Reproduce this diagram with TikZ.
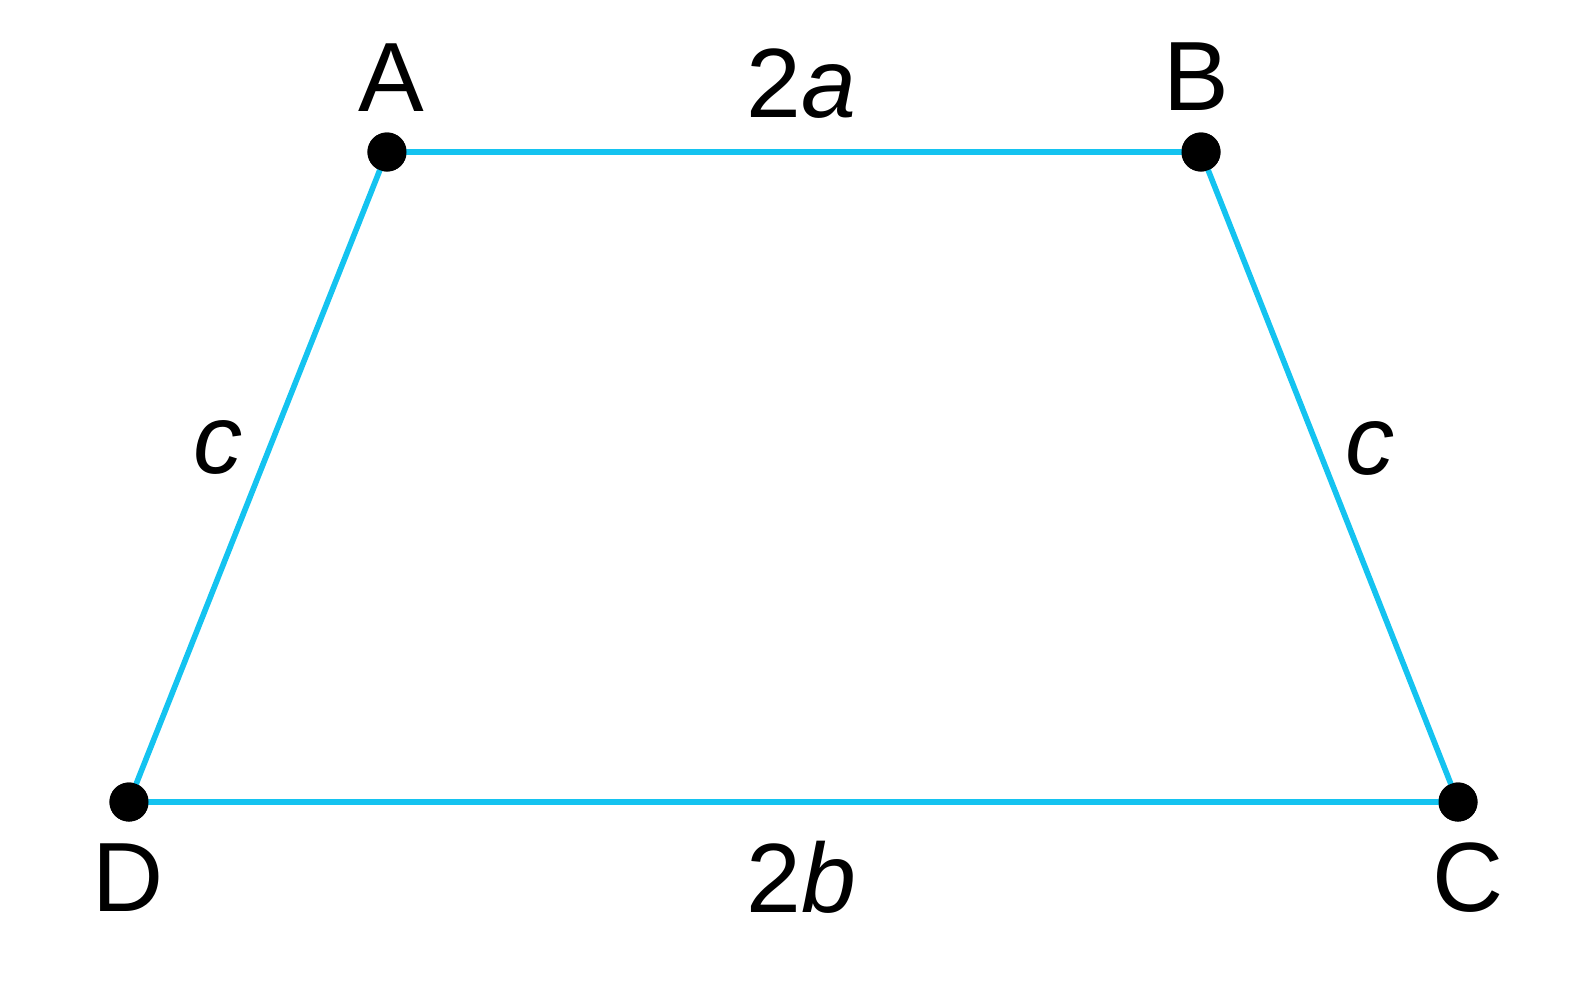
\documentclass[tikz,border=0pt]{standalone}
\usepackage{fontspec}
\setmainfont{Liberation Sans}
\definecolor{edge}{RGB}{20,195,240}
\begin{document}
\begin{tikzpicture}[x=0.01cm,y=-0.01cm,
  vtx/.style={circle,fill=black,inner sep=0pt,minimum size=0.39cm},
  side/.style={draw=edge,line width=1.6pt},
  lbl/.style={font=\fontsize{28}{32}\selectfont,inner sep=0pt,anchor=base}]
\useasboundingbox (0,0) rectangle (1578,996);
\node[vtx] (A) at (387,152) {};
\node[vtx] (B) at (1201,152) {};
\node[vtx] (C) at (1458,802) {};
\node[vtx] (D) at (129,802) {};
\draw[side] (A.center) -- (B.center) -- (C.center) -- (D.center) -- cycle;
\node[vtx] at (A) {};
\node[vtx] at (B) {};
\node[vtx] at (C) {};
\node[vtx] at (D) {};
\node[lbl] (la) at (391,111) {A};
\node[lbl] (lb) at (1196,110) {B};
\node[lbl] (lc) at (1468,911) {C};
\node[lbl] (ld) at (128,911) {D};
\node[lbl] (t2a) at (801,117) {2\textit{a}};
\node[lbl] (t2b) at (801,912) {2\textit{b}};
\node[lbl] (cl) at (218,473) {\textit{c}};
\node[lbl] (cr) at (1370,474) {\textit{c}};
\end{tikzpicture}
\end{document}
